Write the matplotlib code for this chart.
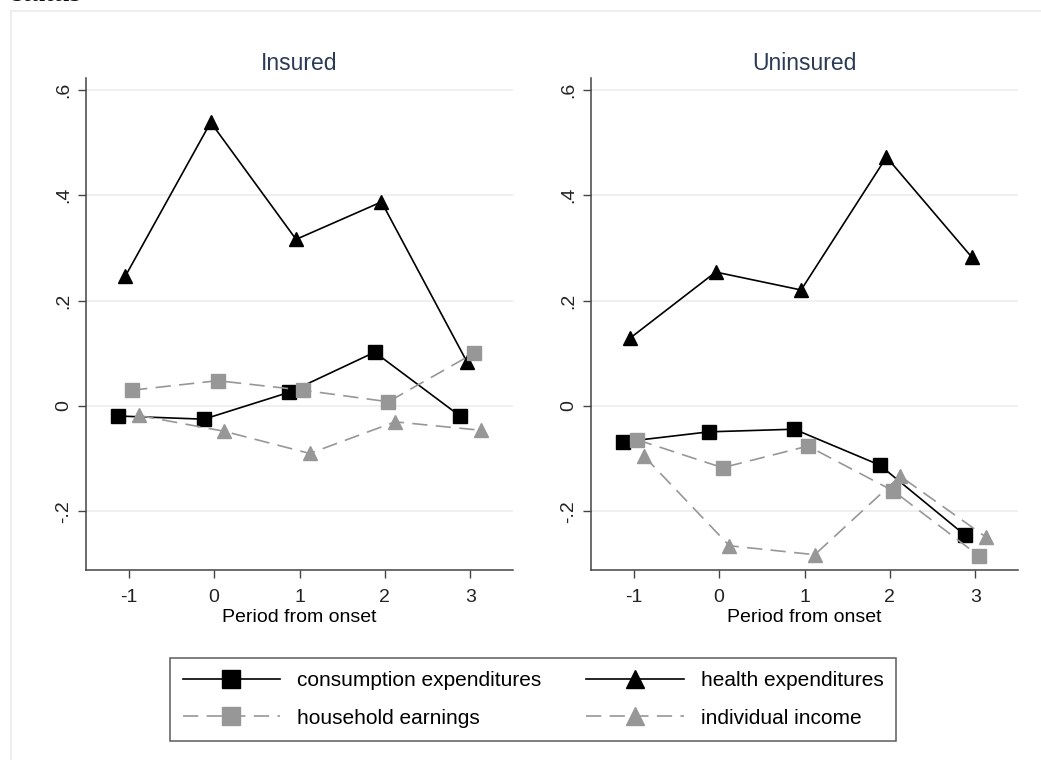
import matplotlib
matplotlib.use("Agg")
import matplotlib.pyplot as plt
from matplotlib.lines import Line2D
import numpy as np

plt.rcParams['font.family'] = ['Liberation Sans', 'DejaVu Sans']
plt.rcParams['lines.scale_dashes'] = False

periods = [-1, 0, 1, 2, 3]
panel_titles = ["Insured", "Uninsured"]
series_names = ["consumption expenditures", "health expenditures",
                "household earnings", "individual income"]

# Insured panel
ins_consumption = [-0.019, -0.025, 0.026, 0.102, -0.019]
ins_health = [0.246, 0.538, 0.316, 0.387, 0.084]
ins_household = [0.030, 0.048, 0.030, 0.008, 0.100]
ins_individual = [-0.018, -0.048, -0.090, -0.030, -0.046]

# Uninsured panel
unins_consumption = [-0.068, -0.049, -0.044, -0.112, -0.245]
unins_health = [0.129, 0.254, 0.220, 0.472, 0.282]
unins_household = [-0.064, -0.117, -0.076, -0.161, -0.284]
unins_individual = [-0.095, -0.265, -0.282, -0.133, -0.248]

yticks = [-0.2, 0, 0.2, 0.4, 0.6]
ytick_labels = ["-.2", "0", ".2", ".4", ".6"]
xlabel = "Period from onset"

gray = "#979797"
styles = [
    dict(color="black", marker="s", ms=9.5, ls="-", lw=1.2, offset=-0.12),
    dict(color="black", marker="^", ms=10.5, ls="-", lw=1.2, offset=-0.04),
    dict(color=gray, marker="s", ms=9.5, ls=(0, (11, 6)), lw=1.2, offset=0.04),
    dict(color=gray, marker="^", ms=10.5, ls=(0, (11, 6)), lw=1.2, offset=0.12),
]

data = [
    [ins_consumption, ins_health, ins_household, ins_individual],
    [unins_consumption, unins_health, unins_household, unins_individual],
]

W, H = 1041, 760
fig = plt.figure(figsize=(W / 100, H / 100), dpi=100)
fig.patch.set_facecolor("white")

# faint outer frame of the graph region
fig.add_artist(Line2D([11 / W, 11 / W], [0, 1 - 11 / H], color="#e9ecef", lw=1.2))
fig.add_artist(Line2D([11 / W, 1], [1 - 11 / H, 1 - 11 / H], color="#e9ecef", lw=1.2))

fig.text(12 / W, 1 - 1 / H, "status", fontsize=21, family="Liberation Serif",
         style="italic", weight="bold", va="baseline", ha="left", color="#111111")

axes_px = [(86, 513), (591, 1018)]
top_px, bot_px = 78, 570
handles = {}
for i, (x0, x1) in enumerate(axes_px):
    ax = fig.add_axes([x0 / W, 1 - bot_px / H, (x1 - x0) / W, (bot_px - top_px) / H])
    for s, vals, st in zip(series_names, data[i], styles):
        xs = np.array(periods) + st["offset"]
        ln, = ax.plot(xs, vals, color=st["color"], marker=st["marker"], ms=st["ms"],
                      ls=st["ls"], lw=st["lw"], label=s, mec=st["color"], mfc=st["color"])
        if i == 0:
            handles[s] = ln
    ax.set_xlim(-1.5, 3.5)
    ax.set_ylim(-0.311, 0.622)
    ax.set_yticks(yticks)
    ax.set_yticklabels(ytick_labels, rotation=90, va="center", fontsize=14)
    ax.set_xticks(periods)
    ax.set_xticklabels([str(p) for p in periods], fontsize=14)
    ax.set_xlabel(xlabel, fontsize=14, labelpad=2)
    ax.grid(axis="y", color="#ececec", lw=1.2)
    ax.set_axisbelow(True)
    for sp in ["top", "right"]:
        ax.spines[sp].set_visible(False)
    for sp in ["left", "bottom"]:
        ax.spines[sp].set_color("#444444")
        ax.spines[sp].set_linewidth(1.1)
    ax.tick_params(axis="x", direction="out", length=6, width=1, color="#444444",
                   labelcolor="#222222", pad=8)
    ax.tick_params(axis="y", direction="out", length=6, width=1, color="#444444",
                   labelcolor="#222222", pad=4)
    ax.set_title(panel_titles[i], fontsize=16.5, color="#2b3a55", pad=6)

# legend filled row by row: consumption, health / household, individual
order = [series_names[0], series_names[2], series_names[1], series_names[3]]
leg = fig.legend(handles=[handles[n] for n in order], labels=order, ncol=2, loc="center",
                 bbox_to_anchor=(533 / W, 1 - 699.5 / H), fontsize=15,
                 frameon=True, fancybox=False, edgecolor="#333333",
                 handlelength=4.7, handletextpad=0.8, columnspacing=2.15,
                 labelspacing=0.88, borderpad=0.62, markerscale=1.3)
leg.get_frame().set_linewidth(1.1)

fig.savefig("out.png", dpi=100, facecolor="white")
